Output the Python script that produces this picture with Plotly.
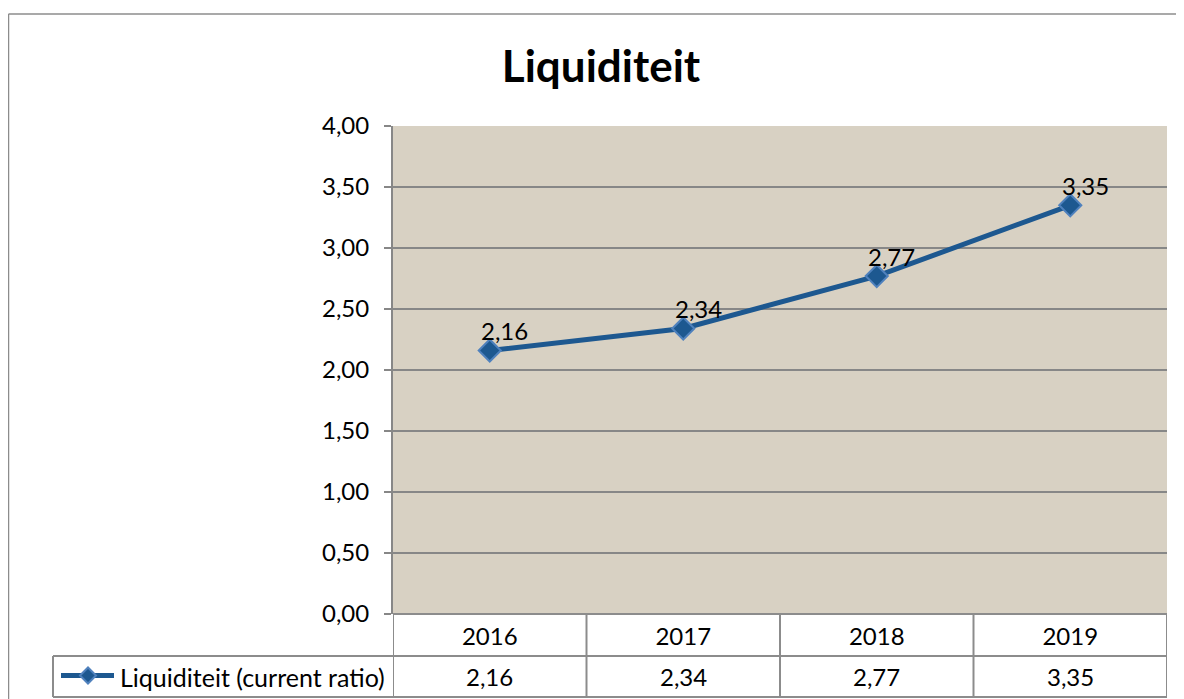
import plotly.graph_objects as go

# ---- data ----
years = ["2016", "2017", "2018", "2019"]
ratio = [2.16, 2.34, 2.77, 3.35]
series_name = "Liquiditeit (current ratio)"
title_text = "Liquiditeit"
y_ticks = [0, 0.5, 1, 1.5, 2, 2.5, 3, 3.5, 4]

def fmt(v):
    return f"{v:.2f}".replace(".", ",")

# ---- layout geometry (pixels in the reference; page body adds an 8px offset) ----
OFF = 8
W, H = 1184 - OFF, 699 - OFF
L, R, T, B = 393 - OFF, 1167 - OFF, 126 - OFF, 614 - OFF
LINE = "#1D5890"
MLINE = "#4F81BD"
GRID = "#878787"
BORDER = "#8C8C8C"
FONT = "Lato, 'Open Sans', sans-serif"
FS = 24

def px(x):
    return (x - OFF - L) / (R - L)

def py(y):
    return (B - (y - OFF)) / (B - T)

fig = go.Figure()
fig.add_trace(go.Scatter(
    x=list(range(len(years))), y=ratio, mode="lines+markers", name=series_name,
    line=dict(color=LINE, width=5),
    marker=dict(symbol="diamond", size=17, color=LINE, line=dict(color=MLINE, width=2)),
    cliponaxis=False, showlegend=False,
))

annotations = []
# data labels
for i, v in enumerate(ratio):
    annotations.append(dict(x=i, y=v, xref="x", yref="y", text=fmt(v), showarrow=False,
                            xshift=15, yshift=20, font=dict(family=FONT, size=FS, color="black")))
# data table values row
for i, v in enumerate(ratio):
    annotations.append(dict(x=i, y=py(676.5), xref="x", yref="paper", text=fmt(v), showarrow=False,
                            yanchor="middle", font=dict(family=FONT, size=FS, color="black")))
# legend key text
annotations.append(dict(x=px(118), y=py(676.5), xref="paper", yref="paper", text=series_name,
                        showarrow=False, xanchor="left", yanchor="middle",
                        font=dict(family=FONT, size=25, color="black")))

shapes = []
bl = dict(color=BORDER, width=2)
# outer chart border
shapes.append(dict(type="line", xref="paper", yref="paper", x0=px(8.5), x1=px(8.5), y0=py(14), y1=py(720), line=dict(color=BORDER, width=1.5), layer="above"))
shapes.append(dict(type="line", xref="paper", yref="paper", x0=px(8.5), x1=px(1200), y0=py(14), y1=py(14), line=dict(color=BORDER, width=1.5), layer="above"))
# table horizontal lines
shapes.append(dict(type="line", xref="paper", yref="paper", x0=0, x1=1, y0=0, y1=0, line=bl))
shapes.append(dict(type="line", xref="paper", yref="paper", x0=px(53), x1=1, y0=py(656), y1=py(656), line=bl))
shapes.append(dict(type="line", xref="paper", yref="paper", x0=px(53), x1=1, y0=py(697), y1=py(697), line=bl))
# table vertical lines (category boundaries)
for i in range(len(years) + 1):
    shapes.append(dict(type="line", xref="x", yref="paper", x0=i - 0.5, x1=i - 0.5, y0=py(614), y1=py(697), line=bl))
shapes.append(dict(type="line", xref="paper", yref="paper", x0=px(53), x1=px(53), y0=py(656), y1=py(697), line=bl))
# legend key: line + diamond
shapes.append(dict(type="line", xref="paper", yref="paper", x0=px(61), x1=px(114), y0=py(675.5), y1=py(675.5),
                   line=dict(color=LINE, width=5)))
shapes.append(dict(type="path", xref="paper", yref="paper", xsizemode="pixel", ysizemode="pixel",
                   xanchor=px(88), yanchor=py(675.5), path="M -8 0 L 0 8 L 8 0 L 0 -8 Z",
                   fillcolor=LINE, line=dict(color=MLINE, width=2)))

fig.update_layout(
    width=W, height=H,
    margin=dict(l=L, r=W - R, t=T, b=H - B, pad=0),
    paper_bgcolor="white",
    plot_bgcolor="#D8D1C3",
    separators=", ",
    font=dict(family=FONT, size=FS, color="black"),
    title=dict(text=title_text, x=(601 - OFF) / W, y=1 - (67 - OFF) / H, xref="container", yref="container",
               xanchor="center", yanchor="middle",
               font=dict(family=FONT, size=44, color="black", weight="bold")),
    xaxis=dict(range=[-0.5, len(years) - 0.5], tickvals=list(range(len(years))), ticktext=years,
               showgrid=False, zeroline=False, showline=False, ticks="", ticklabelstandoff=6,
               tickfont=dict(family=FONT, size=FS, color="black")),
    yaxis=dict(range=[0, 4], tickvals=y_ticks, tickformat=".2f", showgrid=True, gridcolor=GRID,
               gridwidth=1.5, zeroline=False, showline=True, linecolor=GRID, linewidth=2,
               ticks="outside", ticklen=7, tickcolor=GRID, tickwidth=2, ticklabelstandoff=10,
               tickfont=dict(family=FONT, size=FS, color="black")),
    shapes=shapes,
    annotations=annotations,
    showlegend=False,
)

fig.write_html("out.html")
